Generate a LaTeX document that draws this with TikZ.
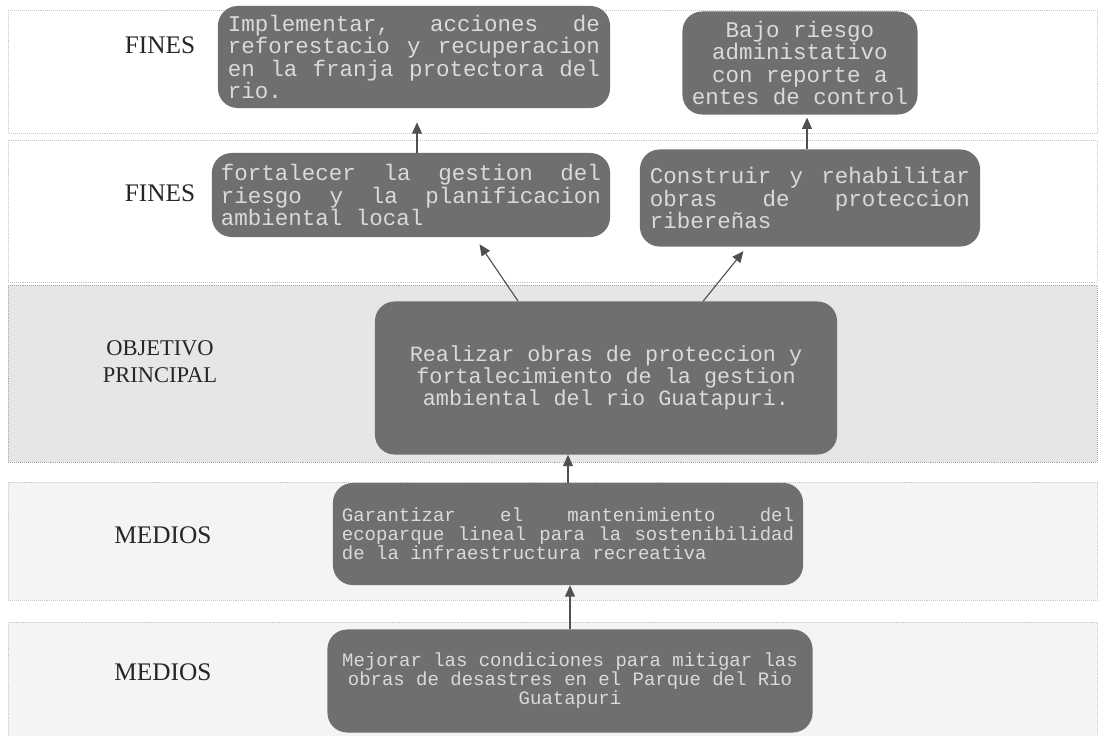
\documentclass[tikz,border=0pt]{standalone}
\usepackage{fontspec}
\setmainfont{Liberation Serif}
\newfontfamily\boxfont{Liberation Mono}
\usepackage{tikz}
\usetikzlibrary{positioning, arrows.meta, calc}

\definecolor{boxgray}{HTML}{6F6F6F}
\definecolor{boxtext}{HTML}{DADADA}
\definecolor{bandgray}{HTML}{E6E6E6}
\definecolor{bandlight}{HTML}{F4F4F4}
\definecolor{arrowgray}{HTML}{505050}

\tikzset{
	meta/.style={rounded corners=14pt, fill=boxgray, text=boxtext, inner sep=0pt},
	band/.style={draw=gray!45, densely dotted},
	lbl/.style={font=\fontsize{18}{18}\selectfont, text=black!85},
	up/.style={draw=arrowgray, thick, -{Triangle[length=8pt,width=7pt]}}
}

\newcommand{\bigtext}{\boxfont\fontsize{16}{16}\selectfont\spaceskip=0.6em plus 3em\relax}
\newcommand{\midtext}{\boxfont\fontsize{15.5}{14}\selectfont\spaceskip=0.6em plus 3em\relax}
\newcommand{\smalltext}{\boxfont\fontsize{13.5}{13.5}\selectfont\spaceskip=0.6em plus 3em\relax}

\begin{document}
\begin{tikzpicture}[x=0.025cm, y=-0.025cm]
			\useasboundingbox (0,0) rectangle (1100,736);
			\fill[white] (0,0) rectangle (1100,736);
			% bands
			\draw[band] (8,10) rectangle (1097,133);
			\draw[band] (8,140) rectangle (1097,282);
			\draw[fill=bandgray, draw=gray!70, densely dotted] (8,285) rectangle (1097,462);
			\draw[band, fill=bandlight] (8,482) rectangle (1097,600);
			\draw[band, fill=bandlight] (8,622) rectangle (1097,736);
			
			% labels
			\node[lbl] (lfin1) at (160,45) {FINES};
			\node[lbl] (lfin2) at (160,193) {FINES};
			\node[lbl, font=\fontsize{16}{19}\selectfont, align=center] (lobj) at (160,362) {OBJETIVO\\PRINCIPAL};
			\node[lbl] (lmed1) at (163,535) {MEDIOS};
			\node[lbl] (lmed2) at (163,672) {MEDIOS};
			
			% boxes
			\node[meta, minimum width=9.8cm, minimum height=2.55cm, text width=9.3cm, align=justify, font=\bigtext] (f1a) at (414,57)
			{Implementar, acciones de\linebreak reforestacio y recuperacion\linebreak en la franja protectora del\linebreak rio.};
			\node[meta, minimum width=5.875cm, minimum height=2.575cm, text width=5.6cm, align=flush center, font=\bigtext] (f1b) at (800,63)
			{Bajo riesgo\\ administativo\\ con reporte a\\ entes de control};
			\node[meta, minimum width=9.95cm, minimum height=2.1cm, text width=9.5cm, align=justify, font=\bigtext] (f2a) at (411,195)
			{fortalecer la gestion del\linebreak riesgo y la planificacion\linebreak ambiental local};
			\node[meta, minimum width=8.5cm, minimum height=2.425cm, text width=8.0cm, align=justify, font=\bigtext] (f2b) at (810,198)
			{Construir y rehabilitar\linebreak obras de proteccion\linebreak ribereñas};
			\node[meta, minimum width=11.55cm, minimum height=3.825cm, text width=11cm, align=flush center, font=\midtext] (obj) at (606,378)
			{Realizar obras de proteccion y\\ fortalecimiento de la gestion\\ ambiental del rio Guatapuri.};
			\node[meta, minimum width=11.75cm, minimum height=2.55cm, text width=11.3cm, align=justify, font=\smalltext] (med1) at (568,534)
			{Garantizar el mantenimiento del\linebreak ecoparque lineal para la sostenibilidad\linebreak de la infraestructura recreativa};
			\node[meta, minimum width=12.125cm, minimum height=2.575cm, text width=11.6cm, align=flush center, font=\smalltext] (med2) at (570,681)
			{Mejorar las condiciones para mitigar las\\ obras de desastres en el Parque del Rio\\ Guatapuri};
			
			% arrows
			\draw[up] (med2.north) -- (med2.north |- med1.south);
			\draw[up] (med1.north) -- (med1.north |- obj.south);
			\draw[up, shorten >=6pt] ($(obj.north west)!0.31!(obj.north east)$) -- ($(f2a.south west)!0.66!(f2a.south east)$);
			\draw[up, shorten >=4pt] ($(obj.north west)!0.71!(obj.north east)$) -- ($(f2b.south west)!0.315!(f2b.south east)$);
			\draw[up, shorten >=10pt] ($(f2a.north)+(6,0)$) -- ($(f2a.north |- f1a.south)+(6,0)$);
			\draw[up, shorten >=2pt] ($(f2b.north)+(-3,0)$) -- ($(f2b.north |- f1b.south)+(-3,0)$);
			
		\end{tikzpicture}
\end{document}
